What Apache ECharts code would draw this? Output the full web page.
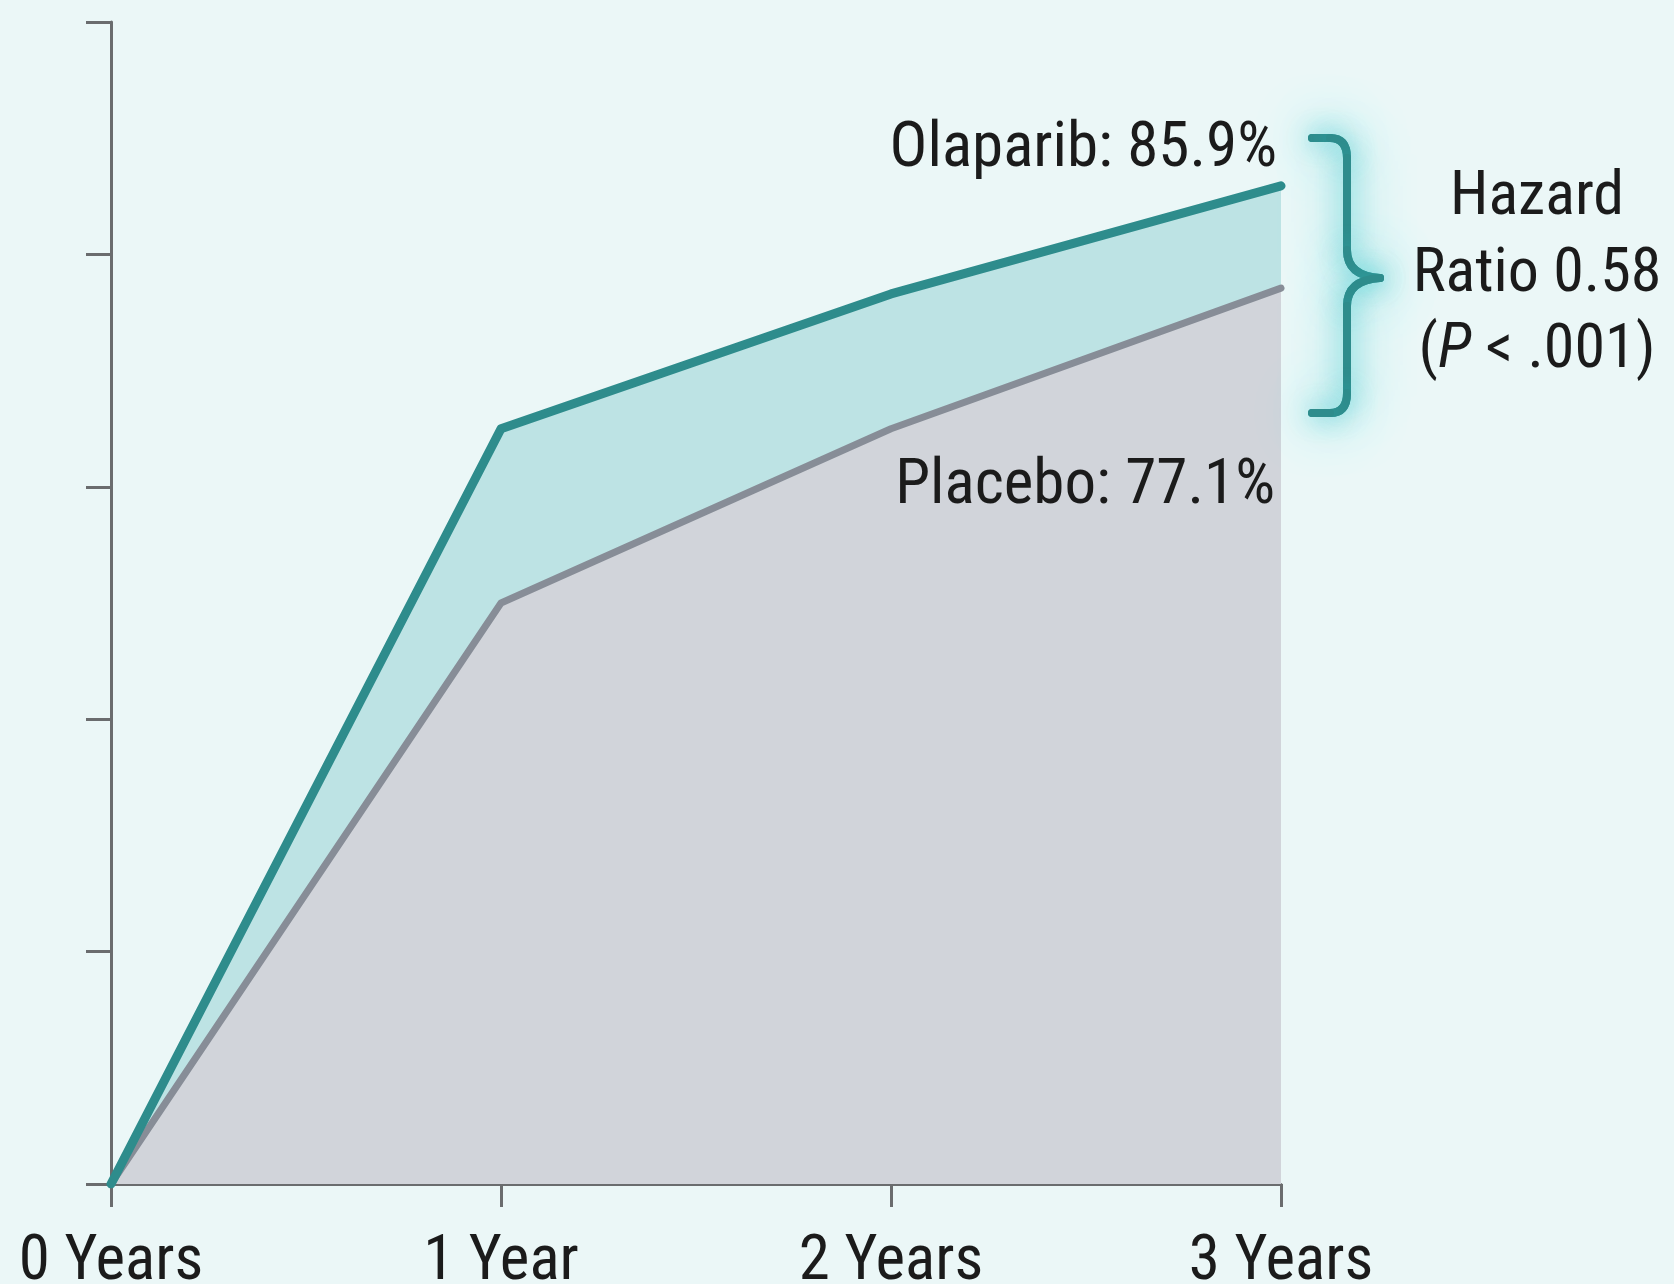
<!DOCTYPE html>
<html>
<head>
<meta charset="utf-8">
<title>Invasive disease-free survival: Olaparib vs Placebo</title>
<script src="https://cdn.jsdelivr.net/npm/echarts@6/dist/echarts.min.js"></script>
<style>
  html, body { margin: 0; padding: 0; background: #EBF7F7; }
  #chart { width: 1674px; height: 1284px; }
</style>
</head>
<body>
<div id="chart"></div>
<script>
// Time points and survival rates (%)
const years = [0, 1, 2, 3];
const yearLabels = ['0 Years', '1 Year', '2 Years', '3 Years'];
const olaparib = [0, 65.0, 76.6, 85.9];
const placebo = [0, 50.0, 65.0, 77.1];
const yTicks = [0, 20, 40, 60, 80, 100];
const hazardLines = ['Hazard', 'Ratio 0.58'];

const FONT = '"Liberation Sans Narrow", "Roboto Condensed", "DejaVu Sans Condensed", Roboto, sans-serif';
const TEAL = '#2E8C8C';
const TEAL_FILL = '#BDE3E4';
const GRAY_FILL = '#D1D4DA';
const GRAY_LINE = '#878D97';
const AXIS = '#6A6C6E';
const INK = '#1B1B1B';

const pts = arr => years.map((x, i) => [x, arr[i]]);

const chart = echarts.init(document.getElementById('chart'), null, { renderer: 'canvas' });

const option = {
  backgroundColor: '#EBF7F7',
  animation: false,
  grid: { left: 111, right: 393, top: 22, bottom: 100, containLabel: false, outerBoundsMode: 'none' },
  xAxis: {
    type: 'value',
    min: 0, max: 3, interval: 1,
    axisLine: { lineStyle: { color: AXIS, width: 3 } },
    axisTick: { show: true, length: 23, lineStyle: { color: AXIS, width: 3 } },
    splitLine: { show: false },
    axisLabel: {
      margin: 48,
      fontFamily: FONT, fontSize: 63, color: INK,
      formatter: v => yearLabels[years.indexOf(v)]
    }
  },
  yAxis: {
    type: 'value',
    min: yTicks[0], max: yTicks[yTicks.length - 1], interval: 20,
    axisLine: { show: true, lineStyle: { color: AXIS, width: 3 } },
    axisTick: { show: true, length: 25, lineStyle: { color: AXIS, width: 3 } },
    splitLine: { show: false },
    axisLabel: { show: false }
  },
  series: [
    { // teal band (olaparib area)
      type: 'line', data: pts(olaparib), symbol: 'none', z: 1,
      lineStyle: { width: 0 },
      areaStyle: { color: TEAL_FILL, opacity: 1 }
    },
    { // placebo area
      type: 'line', data: pts(placebo), symbol: 'none', z: 2,
      lineStyle: { width: 0 },
      areaStyle: { color: GRAY_FILL, opacity: 1 }
    },
    { // placebo curve
      type: 'line', data: pts(placebo), symbol: 'none', z: 3,
      lineStyle: { color: GRAY_LINE, width: 7, cap: 'round', join: 'round' }
    },
    { // olaparib curve
      type: 'line', data: pts(olaparib), symbol: 'none', z: 4,
      lineStyle: { color: TEAL, width: 9, cap: 'round', join: 'round' }
    }
  ]
};

chart.setOption(option);

// Annotations placed through the chart's own coordinate system
const lastIdx = years.length - 1;
const pO = chart.convertToPixel({ gridIndex: 0 }, [years[lastIdx], olaparib[lastIdx]]);
const pP = chart.convertToPixel({ gridIndex: 0 }, [years[lastIdx], placebo[lastIdx]]);

// Curly brace built from straight and curved strokes, with a soft glow underneath
const bx = pO[0] + 31;
const bTop = 138, bBot = 413, bMid = 278;
const glowStyle = {
  stroke: TEAL, lineWidth: 8, lineCap: 'round', fill: null,
  shadowBlur: 55, shadowColor: 'rgba(45, 200, 205, 1)'
};
const braceStyle = {
  stroke: TEAL, lineWidth: 8, lineCap: 'round', fill: null,
  shadowBlur: 25, shadowColor: 'rgba(50, 200, 205, 0.7)'
};
function braceParts(style, z) {
  const seg = (x1, y1, x2, y2) => ({ type: 'line', z, shape: { x1, y1, x2, y2 }, style });
  const curve = (x1, y1, cx, cy, x2, y2) => ({
    type: 'bezierCurve', z, shape: { x1, y1, cpx1: cx, cpy1: cy, x2, y2 }, style
  });
  return [
    seg(bx, bTop, bx + 18, bTop),
    curve(bx + 18, bTop, bx + 35, bTop, bx + 35, bTop + 20),
    seg(bx + 35, bTop + 20, bx + 35, bMid - 28),
    curve(bx + 35, bMid - 28, bx + 35, bMid - 2, bx + 68, bMid),
    curve(bx + 68, bMid, bx + 35, bMid + 2, bx + 35, bMid + 28),
    seg(bx + 35, bMid + 28, bx + 35, bBot - 20),
    curve(bx + 35, bBot - 20, bx + 35, bBot, bx + 18, bBot),
    seg(bx + 18, bBot, bx, bBot)
  ];
}

const hx = 1537;
chart.setOption({
  graphic: [
    ...braceParts(glowStyle, 8),
    ...braceParts(braceStyle, 9),
    {
      type: 'text', z: 10,
      x: pO[0] - 4, y: pO[1] - 36,
      style: {
        text: 'Olaparib: ' + olaparib[lastIdx].toFixed(1) + '%',
        font: `63px ${FONT}`, fill: INK, align: 'right', verticalAlign: 'middle'
      }
    },
    {
      type: 'text', z: 10,
      x: pP[0] - 6, y: pP[1] + 199,
      style: {
        text: 'Placebo: ' + placebo[lastIdx].toFixed(1) + '%',
        font: `63px ${FONT}`, fill: INK, align: 'right', verticalAlign: 'middle'
      }
    },
    {
      type: 'text', z: 10, x: hx, y: 198,
      style: { text: hazardLines[0], font: `62px ${FONT}`, fill: INK, align: 'center', verticalAlign: 'middle' }
    },
    {
      type: 'text', z: 10, x: hx, y: 275,
      style: { text: hazardLines[1], font: `62px ${FONT}`, fill: INK, align: 'center', verticalAlign: 'middle' }
    },
    {
      type: 'text', z: 10, x: hx, y: 351,
      style: {
        text: '({i|P} < .001)',
        font: `62px ${FONT}`, fill: INK, align: 'center', verticalAlign: 'middle',
        rich: { i: { fontStyle: 'italic', fontFamily: FONT, fontSize: 62, fill: INK } }
      }
    }
  ]
});
</script>
</body>
</html>
